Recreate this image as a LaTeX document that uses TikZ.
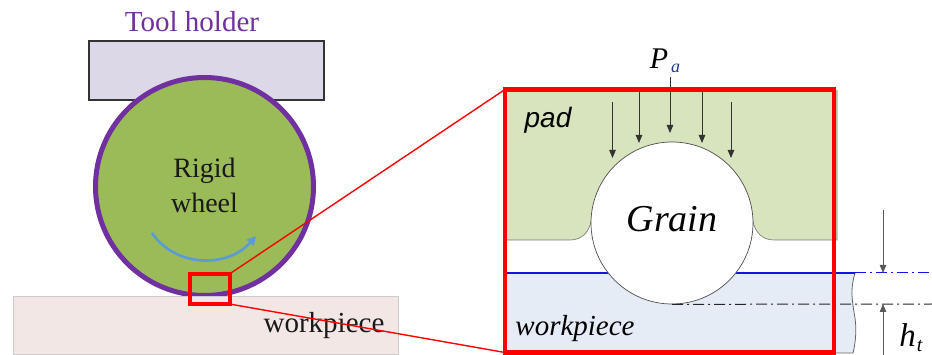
\documentclass[tikz,border=0pt]{standalone}
\usepackage{fontspec}
\setmainfont{Liberation Serif}
\newfontfamily\padfont{Liberation Sans}
\usetikzlibrary{arrows.meta}

\definecolor{holderfill}{HTML}{DCD8E8}
\definecolor{wheelgreen}{HTML}{9BBB59}
\definecolor{wheelrim}{HTML}{7030A0}
\definecolor{workpink}{HTML}{F2E7E4}
\definecolor{padgreen}{HTML}{D7E4BD}
\definecolor{workblue}{HTML}{E6ECF6}
\definecolor{spinblue}{HTML}{5B9BD5}
\definecolor{surfblue}{HTML}{1414E6}
\definecolor{subblue}{HTML}{1F3C88}

\tikzset{
  lbl/.style={anchor=base, inner sep=0pt, outer sep=0pt},
  zoombox/.style={draw=red, inner sep=0pt, outer sep=0pt},
  zoomline/.style={draw=red, line width=1.4pt},
  pressure/.style={draw=black!80, line width=0.9pt,
    -{Triangle[length=8pt,width=6.5pt]}},
  dimarrow/.style={draw=black!65, line width=0.8pt,
    -{Triangle[length=8pt,width=6.5pt]}},
  dashdot/.style={line width=1pt, dash pattern=on 11pt off 4pt on 2pt off 4pt},
}

\begin{document}
\begin{tikzpicture}[x=1pt,y=-1pt]
\useasboundingbox (0,0) rectangle (932,355);

% ---------- machine: tool holder, rigid wheel, workpiece ----------
\node[lbl, text=wheelrim, font=\fontsize{29}{30}\selectfont] (holderlbl) at (192,32) {Tool holder};
\draw[draw=black!80, fill=holderfill, line width=1.1pt] (89,41) rectangle (324,100);
\draw[draw=wheelrim, fill=wheelgreen, line width=5pt] (204.5,186.5) circle[radius=109];
\node[lbl, text=black!90, font=\fontsize{28}{30}\selectfont] (rigid) at (204.5,178) {Rigid};
\node[lbl, text=black!90, font=\fontsize{28}{30}\selectfont] (wheel) at (204.5,213) {wheel};
\draw[draw=spinblue, line width=2.6pt, -{Triangle[length=9pt,width=9pt]}]
  (152,233) .. controls (176,268) and (228,268) .. (256,236);
\draw[draw=black!20, fill=workpink, line width=0.8pt] (13,296) rectangle (398,354);
\node[lbl, text=black!90, font=\fontsize{29}{30}\selectfont] (wplbl) at (324,333) {workpiece};

% ---------- close-up of the grain contact ----------
% workpiece body with its break line
\fill[workblue] (505,273) -- (855,273)
  .. controls (850,290) and (852,300) .. (855,318)
  .. controls (857,332) and (855,345) .. (853,353) -- (505,353) -- cycle;
\draw[draw=black!60, line width=0.8pt] (855,273)
  .. controls (850,290) and (852,300) .. (855,318)
  .. controls (857,332) and (855,345) .. (853,353) -- (830,353);
\draw[draw=surfblue, line width=1.6pt] (505,273) -- (855,273);
\draw[draw=surfblue, dashdot] (855,273) -- (932,273);

% pad with fillets around the grain
\fill[padgreen] (505,90) -- (837,90) -- (837,240) -- (774,240)
  .. controls (762,240) and (755,232) .. (752.8,221) -- (591.2,221)
  .. controls (589,232) and (582,240) .. (570,240) -- (505,240) -- cycle;
\draw[draw=black!55, line width=0.6pt] (505,240) -- (570,240)
  .. controls (582,240) and (589,232) .. (591.2,221);
\draw[draw=black!55, line width=0.6pt] (752.8,221)
  .. controls (755,232) and (762,240) .. (774,240) -- (837,240) -- (837,90);

% grain
\node[circle, draw=black!70, fill=white, line width=0.7pt, minimum size=162pt,
  inner sep=0pt] (grain) at (672,223) {};
\node[lbl, font=\fontsize{38}{40}\selectfont\itshape] (grainlbl) at (672,232) {Grain};
\draw[draw=black!85, dashdot] (grain.south) -- (932,304);

% applied pressure
\node[lbl, font=\fontsize{30}{32}\selectfont\itshape] (plbl) at (665,69)
  {P\hspace{3pt}\raisebox{-4pt}{\textcolor{subblue}{\fontsize{18}{20}\selectfont a}}};
\coordinate (p1) at (612.5,102); \coordinate (q1) at (612.5,158);
\coordinate (p2) at (639,90);    \coordinate (q2) at (639,143);
\coordinate (p3) at (670,77);    \coordinate (q3) at (670,133);
\coordinate (p4) at (702,90);    \coordinate (q4) at (702,143);
\coordinate (p5) at (731,102);   \coordinate (q5) at (731,158);
\foreach \i in {1,...,5} { \draw[pressure] (p\i) -- (q\i); }

\node[lbl, font=\padfont\fontsize{28}{30}\selectfont\itshape] (padlbl) at (548,128) {pad};
\node[lbl, font=\fontsize{29}{30}\selectfont\itshape] (wplbl2) at (575,336) {workpiece};

% depth of cut
\coordinate (dtop) at (883,210);  \coordinate (dsurf) at (883,273);
\coordinate (dbot) at (883,355);  \coordinate (dcut) at (883,304);
\draw[dimarrow] (dtop) -- (dsurf);
\draw[dimarrow] (dbot) -- (dcut);
\node[lbl, font=\fontsize{33}{34}\selectfont\itshape] (htlbl) at (911,347)
  {h\hspace{1pt}\raisebox{-5pt}{\fontsize{20}{22}\selectfont t}};

% ---------- zoom frames ----------
\node[zoombox, line width=4pt, minimum width=40pt, minimum height=30pt] (src) at (209.5,289) {};
\node[zoombox, line width=4.5pt, minimum width=329pt, minimum height=263pt] (dst) at (669.5,221) {};
\draw[zoomline] (src.north east) -- (dst.north west);
\draw[zoomline] (src.south east) -- (dst.south west);
\end{tikzpicture}
\end{document}
